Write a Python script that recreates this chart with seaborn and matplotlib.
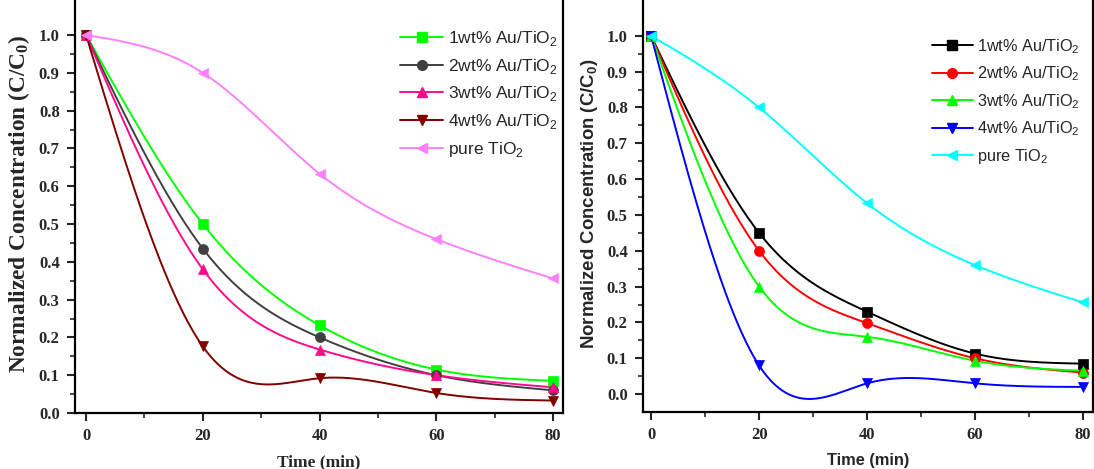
import numpy as np
import pandas as pd
import matplotlib
matplotlib.use("Agg")
import matplotlib.pyplot as plt
from matplotlib.lines import Line2D
import seaborn as sns

# ---------------- data ----------------
time = [0, 20, 40, 60, 80]
labels = ["1wt% Au/TiO$_\\mathregular{2}$", "2wt% Au/TiO$_\\mathregular{2}$",
          "3wt% Au/TiO$_\\mathregular{2}$", "4wt% Au/TiO$_\\mathregular{2}$",
          "pure TiO$_\\mathregular{2}$"]

left_1wt = [1.0, 0.50, 0.232, 0.115, 0.085]
left_2wt = [1.0, 0.435, 0.200, 0.100, 0.060]
left_3wt = [1.0, 0.380, 0.168, 0.100, 0.068]
left_4wt = [1.0, 0.176, 0.092, 0.053, 0.033]
left_pure = [1.0, 0.900, 0.633, 0.460, 0.356]

right_1wt = [1.0, 0.450, 0.230, 0.113, 0.085]
right_2wt = [1.0, 0.400, 0.198, 0.100, 0.060]
right_3wt = [1.0, 0.300, 0.160, 0.093, 0.065]
right_4wt = [1.0, 0.080, 0.030, 0.030, 0.020]
right_pure = [1.0, 0.800, 0.533, 0.360, 0.256]

yticks = [0.0, 0.1, 0.2, 0.3, 0.4, 0.5, 0.6, 0.7, 0.8, 0.9, 1.0]
xticks = [0, 20, 40, 60, 80]

left_colors = ["#00FF00", "#404040", "#FF0A8C", "#800000", "#FF80FF"]
right_colors = ["#000000", "#FF0000", "#00FF00", "#0000FF", "#00FFFF"]
markers = ["s", "o", "^", "v", "<"]


def natural_spline(x, y, n=300):
    x = np.asarray(x, float)
    y = np.asarray(y, float)
    k = len(x)
    h = np.diff(x)
    A = np.zeros((k, k))
    b = np.zeros(k)
    A[0, 0] = 1
    A[-1, -1] = 1
    for i in range(1, k - 1):
        A[i, i - 1] = h[i - 1]
        A[i, i] = 2 * (h[i - 1] + h[i])
        A[i, i + 1] = h[i]
        b[i] = 6 * ((y[i + 1] - y[i]) / h[i] - (y[i] - y[i - 1]) / h[i - 1])
    M = np.linalg.solve(A, b)
    xs = np.linspace(x[0], x[-1], n)
    idx = np.clip(np.searchsorted(x, xs) - 1, 0, k - 2)
    x0, x1 = x[idx], x[idx + 1]
    hh = x1 - x0
    t0 = x1 - xs
    t1 = xs - x0
    ys = (M[idx] * t0 ** 3 / (6 * hh) + M[idx + 1] * t1 ** 3 / (6 * hh)
          + (y[idx] / hh - M[idx] * hh / 6) * t0
          + (y[idx + 1] / hh - M[idx + 1] * hh / 6) * t1)
    return xs, ys


sns.set_theme(style="white")
plt.rcParams["mathtext.fontset"] = "custom"
plt.rcParams["mathtext.rm"] = "Liberation Sans"

fig = plt.figure(figsize=(10.94, 4.69), dpi=100)
# axes tops extend slightly above the canvas so the top frame is cut off
axL = fig.add_axes([75 / 1094, 56 / 469, (563 - 75) / 1094, (469 + 5 - 56) / 469])
axR = fig.add_axes([643 / 1094, 57 / 469, (1093 - 643) / 1094, (469 + 5 - 57) / 469])

panels = [
    (axL, [left_1wt, left_2wt, left_3wt, left_4wt, left_pure], left_colors,
     (-1.9, 81.7), (0.0, 1.106), "Liberation Serif", "Liberation Serif",
     (1.022, 0.956), 16.8, 12.5, 12.5),
    (axR, [right_1wt, right_2wt, right_3wt, right_4wt, right_pure], right_colors,
     (-1.5, 81.85), (-0.05, 1.114), "Liberation Serif", "Liberation Sans",
     (1.004, 0.934), 13.4, 11.8, 11.7),
]

for ax, series, colors, xl, yl, tickfont, labfont, legpos, ylfs, xlfs, legfs in panels:
    for vals, c, m in zip(series, colors, markers):
        xs, ys = natural_spline(time, vals)
        sns.lineplot(x=xs, y=ys, color=c, lw=1.4, ax=ax, legend=False,
                     estimator=None, sort=False)
        sns.scatterplot(x=time, y=vals, marker=m, color=c, s=52,
                        edgecolor=c, linewidth=0.5, ax=ax, legend=False, zorder=5)
    ax.set_xlim(*xl)
    ax.set_ylim(*yl)
    ax.set_xticks(xticks)
    ax.set_xticks([10, 30, 50, 70], minor=True)
    ax.set_yticks(yticks)
    ax.set_yticks(np.arange(0.05, 1.0, 0.1), minor=True)
    ax.set_yticklabels([f"{v:.1f}" for v in yticks])
    ax.set_xticklabels([str(v) for v in xticks])
    ax.tick_params(which="major", direction="out", length=6, width=1.5,
                   bottom=True, left=True, top=False, right=False,
                   labelsize=12, pad=5)
    ax.tick_params(which="minor", direction="out", length=3.5, width=1.2,
                   bottom=True, left=True)
    for lab in ax.get_xticklabels() + ax.get_yticklabels():
        lab.set_fontfamily(tickfont)
        lab.set_fontweight("bold")
    for s in ax.spines.values():
        s.set_visible(True)
        s.set_color("black")
        s.set_linewidth(1.6)
    ax.set_xlabel("Time (min)", fontfamily=labfont, fontweight="bold",
                  fontsize=xlfs, labelpad=7)
    ax.set_ylabel("Normalized Concentration (C/C$_\\mathregular{0}$)",
                  fontfamily=labfont, fontweight="bold", fontsize=ylfs, labelpad=5)
    handles = [Line2D([0], [0], color=c, marker=m, markersize=7, lw=1.4)
               for c, m in zip(colors, markers)]
    leg = ax.legend(handles, labels, loc="upper right", bbox_to_anchor=legpos,
                    frameon=False, handlelength=2.5, handletextpad=0.3,
                    labelspacing=0.5 * 12.5 / legfs if legfs < 12.5 else 0.5,
                    prop={"family": "Liberation Sans", "size": legfs})
    ax.grid(False)

fig.savefig("out.png", dpi=100)
